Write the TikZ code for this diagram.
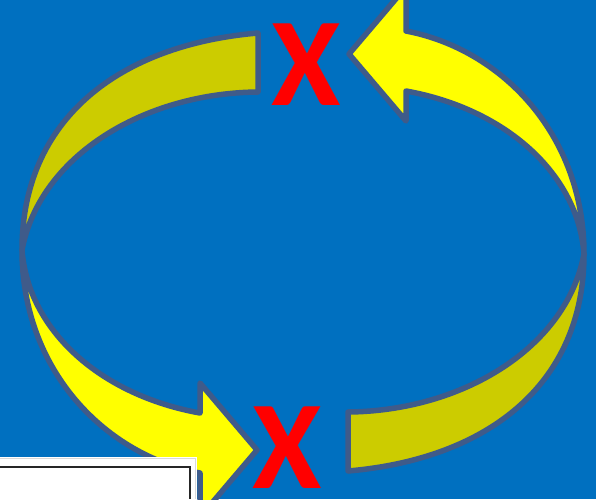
\documentclass[tikz,border=0pt]{standalone}
\usepackage{fontspec}
\newfontfamily\xfont{Carlito}
\definecolor{bgblue}{HTML}{0070C0}
\definecolor{edgeblue}{HTML}{3F5B8A}
\definecolor{darkylw}{HTML}{CCCC00}
\definecolor{ylw}{HTML}{FFFF00}
\tikzset{
  band/.style={draw=edgeblue, line width=5.5pt, line join=round},
  backface/.style={band, fill=darkylw},
  frontface/.style={band, fill=ylw},
  xmark/.style={text=red, font=\xfont\bfseries\fontsize{126}{126}\selectfont, inner sep=0pt},
  pics/curvedarrow/.style={code={
    \path[backface] (258,33) .. controls (118,45) and (22,120) .. (22,250)
        .. controls (40,155) and (145,93) .. (258,92) -- cycle;
    \path[frontface] (22,250) .. controls (22,370) and (105,455) .. (200,473)
        -- (200,517) -- (257,450) -- (200,383) -- (200,413)
        .. controls (100,395) and (28,330) .. (22,250) -- cycle;
  }}
}
\begin{document}
\begin{tikzpicture}[x=1pt,y=-1pt]
\useasboundingbox (0,0) rectangle (596,499);
\clip (0,0) rectangle (596,499);
\fill[bgblue] (0,0) rectangle (596,499);
% left curved arrow (tail at top, head at bottom)
\pic (leftarrow) at (0,0) {curvedarrow};
% right curved arrow (tail at bottom, head at top)
\pic[rotate=180] (rightarrow) at (606,504) {curvedarrow};
% white window fragment
\fill[white] (0,457) rectangle (197,499);
\draw[gray!30, line width=1.5pt] (0,458.5) -- (195.5,458.5) -- (195.5,499);
\draw[black!85, line width=1.6pt] (0,467) -- (190,467) -- (190,499);
% red crosses
\node[xmark] (xtop) at (306.5,65) {X};
\node[xmark] (xbot) at (287.5,447.5) {X};
\end{tikzpicture}
\end{document}
